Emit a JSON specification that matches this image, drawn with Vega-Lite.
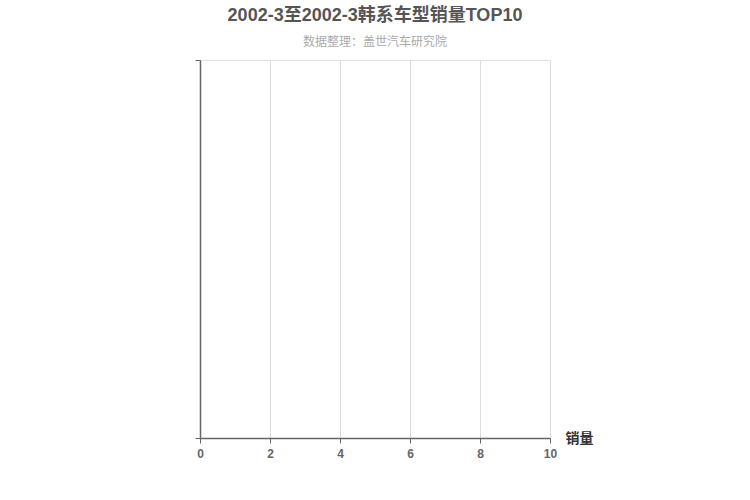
{
  "$schema": "https://vega.github.io/schema/vega-lite/v6.json",
  "background": "white",
  "autosize": "none",
  "padding": {"left": 200, "top": 60, "right": 200, "bottom": 62},
  "width": 350,
  "height": 378,
  "title": {
    "text": "2002-3至2002-3韩系车型销量TOP10",
    "subtitle": "数据整理：盖世汽车研究院",
    "anchor": "middle",
    "fontSize": 18,
    "fontWeight": "bold",
    "color": "#555555",
    "subtitleFontSize": 12,
    "subtitleColor": "#aaaaaa",
    "subtitlePadding": 12,
    "offset": 12,
    "font": "Liberation Sans, Noto Sans CJK SC",
    "subtitleFont": "Liberation Sans, Noto Sans CJK SC"
  },
  "data": {"values": []},
  "mark": {"type": "bar", "color": "#5470c6"},
  "encoding": {
    "x": {
      "field": "销量",
      "type": "quantitative",
      "scale": {"domain": [0, 10], "nice": false, "padding": 0},
      "axis": {
        "values": [0, 2, 4, 6, 8, 10],
        "title": "销量",
        "titleAnchor": "end",
        "titleAlign": "left",
        "titleBaseline": "middle",
        "titleX": 365,
        "titleY": 0,
        "titleFontSize": 14,
        "titleFontWeight": "bold",
        "titleColor": "#333333",
        "labelFlush": false,
        "labelFontWeight": "bold",
        "labelColor": "#666666",
        "labelFontSize": 12,
        "labelPadding": 5,
        "domainColor": "#666666",
        "domainWidth": 1.5,
        "tickColor": "#666666",
        "tickSize": 5,
        "gridColor": "#dddddd"
      }
    },
    "y": {
      "field": "车型",
      "type": "quantitative",
      "scale": {"domain": [0, 1], "nice": false, "padding": 0},
      "axis": {
        "values": [0, 1],
        "title": null,
        "labels": false,
        "domainColor": "#666666",
        "domainWidth": 1.5,
        "tickColor": "#666666",
        "tickSize": 5,
        "gridColor": "#dddddd"
      }
    }
  },
  "config": {
    "font": "Liberation Sans, Noto Sans CJK SC",
    "view": {"stroke": null}
  }
}
